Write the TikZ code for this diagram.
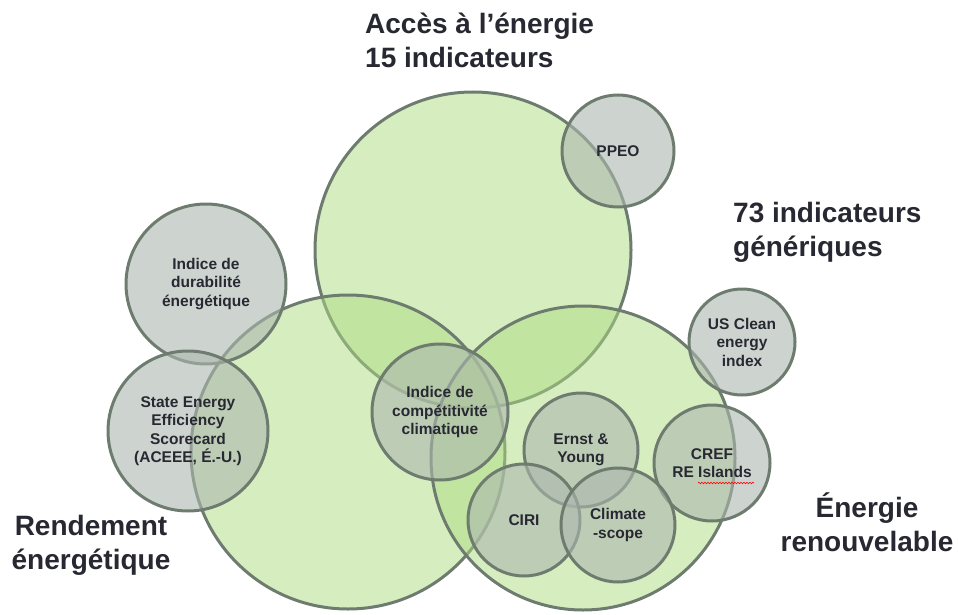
\documentclass[tikz,border=0pt]{standalone}
\usepackage{fontspec}
\setmainfont{Liberation Sans}
\usetikzlibrary{decorations.pathmorphing}
\definecolor{ringline}{RGB}{110,124,112}
\definecolor{leaf}{RGB}{173,219,129}
\definecolor{stone}{RGB}{172,183,175}
\definecolor{ink}{RGB}{40,40,50}
\tikzset{
  bigset/.style={circle, draw=ringline, line width=3pt, fill=leaf, fill opacity=0.5, draw opacity=1, inner sep=0pt, minimum size=#1},
  index/.style={circle, draw=ringline, line width=3pt, fill=stone, fill opacity=0.6, draw opacity=1, text opacity=1, inner sep=0pt, minimum size=#1, align=center, text=ink, font=\bfseries\fontsize{15.5}{18.5}\selectfont},
  heading/.style={inner sep=0pt, text=ink, font=\bfseries\fontsize{28}{34}\selectfont}
}
\begin{document}
\begin{tikzpicture}[x=1pt, y=-1pt]
\useasboundingbox (0,0) rectangle (958,615);
% the three themes
\node[bigset=316pt] (access) at (473,250) {};
\node[bigset=314pt] (efficiency) at (348,452) {};
\node[bigset=304pt] (renewable) at (583,458) {};
% individual indices
\node[index=112pt] (ppeo) at (618,151) {PPEO};
\node[index=160pt] (durab) at (206,284) {Indice de\\durabilité\\énergétique};
\node[index=160pt] (state) at (188,431) {State Energy\\Efficiency\\Scorecard\\(ACEEE, É.-U.)};
\node[index=136pt] (compet) at (440,412) {Indice de\\compétitivité\\climatique};
\node[index=106pt] (usclean) at (742,342) {US Clean\\energy\\index};
\node[index=116pt] (cref) at (712,463) {CREF\\RE Islands};
\node[index=114pt] (ernst) at (581,450) {Ernst \&\\Young};
\node[index=112pt] (ciri) at (524,520) {CIRI};
\node[index=114pt] (climascope) at (618,525) {Climate\\-scope};
% spell-check squiggle under "Islands"
\coordinate (sqA) at (698,483);
\coordinate (sqB) at (754,483);
\draw[red, line width=0.6pt, decorate, decoration={snake, amplitude=0.8pt, segment length=3pt}] (sqA) -- (sqB);
% theme headings
\node[heading, anchor=north west, align=left] (hAccess) at (365,12.5) {Accès à l’énergie\\15 indicateurs};
\node[heading, anchor=north west, align=left] (hGeneric) at (733,202.5) {73 indicateurs\\génériques};
\node[heading, anchor=north, align=center] (hEff) at (91,515.5) {Rendement\\énergétique};
\node[heading, anchor=north, align=center] (hRen) at (867,492.5) {Énergie\\renouvelable};
\end{tikzpicture}
\end{document}
